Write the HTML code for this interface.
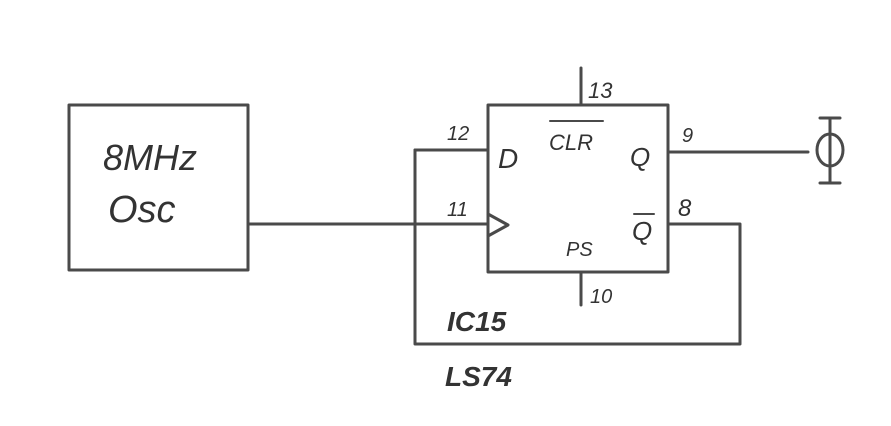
<!DOCTYPE html>
<html><head><meta charset="utf-8"><style>
html,body{margin:0;padding:0;background:#fff;}
svg{display:block;}
text{font-family:"Liberation Sans",sans-serif;fill:#333;font-style:italic;}
</style></head><body>
<svg width="891" height="426" viewBox="0 0 891 426" xmlns="http://www.w3.org/2000/svg">
<g stroke="#4a4a4a" stroke-width="3" fill="none" stroke-linecap="round" stroke-linejoin="round">
<rect x="69" y="105" width="179" height="165"/>
<line x1="248" y1="224" x2="488" y2="224"/>
<rect x="488" y="105" width="180" height="167"/>
<line x1="581" y1="68" x2="581" y2="105"/>
<line x1="581" y1="272" x2="581" y2="305"/>
<polyline points="488,214 508,225 488,236"/>
<line x1="415" y1="150" x2="488" y2="150"/>
<line x1="668" y1="152" x2="808" y2="152"/>
<polyline points="668,224 740,224 740,344 415,344 415,150"/>
<line x1="550" y1="121" x2="603" y2="121" stroke-width="2"/>
<line x1="634" y1="214" x2="654" y2="214" stroke-width="2"/>
<ellipse cx="830" cy="150" rx="13" ry="16"/>
<line x1="830" y1="118" x2="830" y2="183"/>
<line x1="820" y1="118" x2="840" y2="118"/>
<line x1="820" y1="183" x2="840" y2="183"/>
</g>
<text x="103" y="170" font-size="36">8MHz</text>
<text x="108" y="222" font-size="38">Osc</text>
<text x="588" y="98" font-size="22">13</text>
<text x="549" y="150" font-size="22">CLR</text>
<text x="498" y="168" font-size="28">D</text>
<text x="447" y="140" font-size="20">12</text>
<text x="447" y="216" font-size="20">11</text>
<text x="630" y="166" font-size="26">Q</text>
<text x="682" y="142" font-size="20">9</text>
<text x="632" y="240" font-size="26">Q</text>
<text x="678" y="216" font-size="24">8</text>
<text x="566" y="256" font-size="20">PS</text>
<text x="590" y="303" font-size="20">10</text>
<text x="447" y="331" font-size="28" font-weight="bold">IC15</text>
<text x="445" y="386" font-size="28" font-weight="bold">LS74</text>
</svg>
</body></html>
